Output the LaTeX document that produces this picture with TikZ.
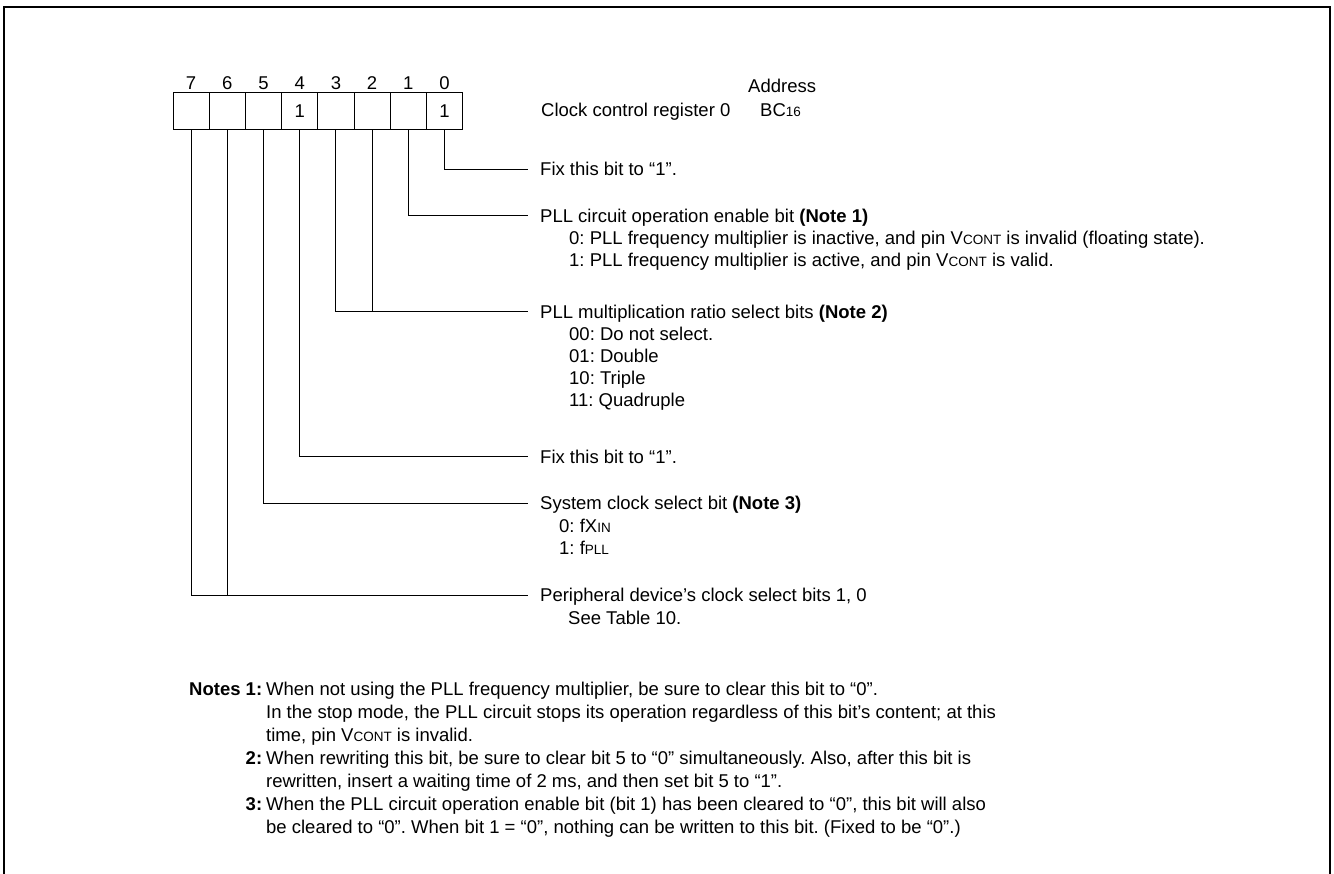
\documentclass[tikz,border=0pt]{standalone}
\usepackage{fontspec}
\setmainfont{Liberation Sans}
\usetikzlibrary{positioning}
\frenchspacing
\newcommand{\regfont}{\fontsize{18.5pt}{21.7pt}\selectfont}
\newcommand{\lowtxt}[1]{{\fontsize{13.5pt}{13.5pt}\selectfont #1}}

\begin{document}
\begin{tikzpicture}[x=1pt, y=1pt, every node/.style={font=\regfont, inner sep=0pt},
  cell/.style={draw, line width=1pt, minimum width=36.2pt, minimum height=36.6pt},
  desc/.style={anchor=west, inner xsep=12pt, inner ysep=0pt, text height=13.2pt, text depth=0pt},
  subline/.style={text height=13.2pt, text depth=0pt, below=8.5pt of #1, anchor=north west},
  wire/.style={line width=1pt}]
  \useasboundingbox (0,0) rectangle (1334,-874);
  \draw[line width=2.8pt] (4,-874) -- (4,-7) -- (1330,-7) -- (1330,-874);

  % register cells and bit numbers
  \foreach \i/\v in {7/,6/,5/,4/1,3/,2/,1/,0/1}
    \node[cell] (b\i) at ({191.1+36.2*(7-\i)},-111) {\v};
  \foreach \i in {0,...,7}
    \node[above=2.7pt of b\i.north, anchor=base] (n\i) {\i};

  \node[anchor=base west] (reg) at (541,-117) {Clock control register 0};
  \node[anchor=base west] (addr) at (748,-93) {Address};
  \node[anchor=base west] (bc) at (760,-117) {BC\lowtxt{16}};

  % bit descriptions
  \node[desc] (fix0) at (528,-169.3) {Fix this bit to “1”.};
  \node[desc] (pll) at (528,-216) {PLL circuit operation enable bit \textbf{(Note 1)}};
  \node[subline=pll.south west, xshift=41pt] (pll0) {0: PLL frequency multiplier is inactive, and pin V\lowtxt{CONT} is invalid (floating state).};
  \node[subline=pll0.south west] (pll1) {1: PLL frequency multiplier is active, and pin V\lowtxt{CONT} is valid.};

  \node[desc] (mul) at (528,-311.7) {PLL multiplication ratio select bits \textbf{(Note 2)}};
  \node[subline=mul.south west, xshift=41pt] (mul0) {00: Do not select.};
  \node[subline=mul0.south west] (mul1) {01: Double};
  \node[subline=mul1.south west] (mul2) {10: Triple};
  \node[subline=mul2.south west] (mul3) {11: Quadruple};

  \node[desc] (fix4) at (528,-456.7) {Fix this bit to “1”.};

  \node[desc] (sys) at (528,-503.3) {System clock select bit \textbf{(Note 3)}};
  \node[subline=sys.south west, xshift=31pt] (sys0) {0: fX\lowtxt{IN}};
  \node[subline=sys0.south west] (sys1) {1: f\lowtxt{PLL}};

  \node[desc] (per) at (528,-595.3) {Peripheral device’s clock select bits 1, 0};
  \node[subline=per.south west, xshift=40pt] (per0) {See Table 10.};

  % connectors
  \draw[wire] (b0.south) |- (fix0.west);
  \draw[wire] (b1.south) |- (pll.west);
  \draw[wire] (b3.south) |- (mul.west);
  \draw[wire] (b2.south) -- (b2.south |- mul.west);
  \draw[wire] (b4.south) |- (fix4.west);
  \draw[wire] (b5.south) |- (sys.west);
  \draw[wire] (b7.south) |- (per.west);
  \draw[wire] (b6.south) -- (b6.south |- per.west);

  % notes
  \node[anchor=base west] (notes) at (189,-695) {\fontsize{18.5pt}{23pt}\selectfont
    \begin{tabular}[t]{@{}r@{\hspace{4pt}}l@{}}
      \textbf{Notes 1:} & When not using the PLL frequency multiplier, be sure to clear this bit to “0”.\\
      & In the stop mode, the PLL circuit stops its operation regardless of this bit’s content; at this\\
      & time, pin V\lowtxt{CONT} is invalid.\\
      \textbf{2:} & When rewriting this bit, be sure to clear bit 5 to “0” simultaneously. Also, after this bit is\\
      & rewritten, insert a waiting time of 2 ms, and then set bit 5 to “1”.\\
      \textbf{3:} & When the PLL circuit operation enable bit (bit 1) has been cleared to “0”, this bit will also\\
      & be cleared to “0”. When bit 1 = “0”, nothing can be written to this bit. (Fixed to be “0”.)
    \end{tabular}};
\end{tikzpicture}
\end{document}
